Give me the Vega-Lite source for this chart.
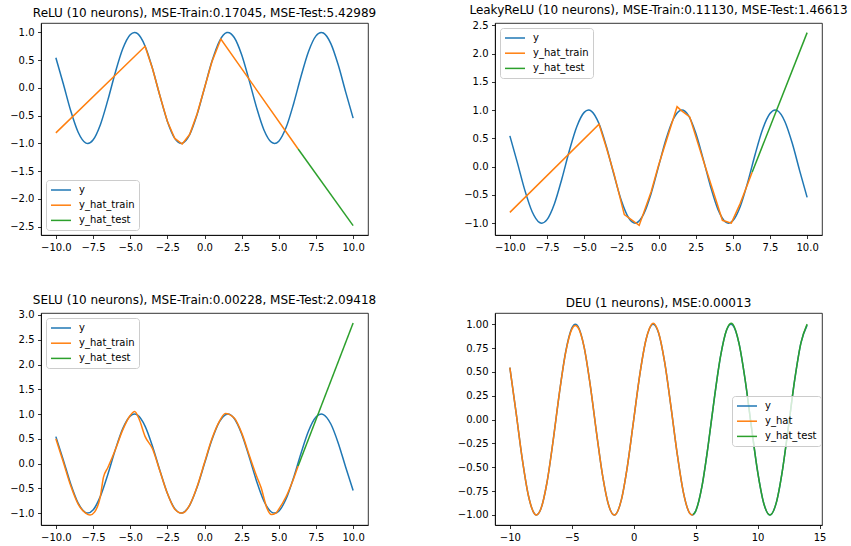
{
  "$schema": "https://vega.github.io/schema/vega-lite/v6.json",
  "autosize": {"type": "pad"},
  "padding": {"left": 9, "top": 3, "right": 0, "bottom": 0},
  "background": "white",
  "datasets": {
    "sine": [
      {"x": -10, "v": 0.544, "s": "y"}, {"x": -9.5, "v": 0.0752, "s": "y"}, {"x": -9, "v": -0.4121, "s": "y"},
      {"x": -8.5, "v": -0.7985, "s": "y"}, {"x": -8, "v": -0.9894, "s": "y"}, {"x": -7.854, "v": -1, "s": "y"},
      {"x": -7.5, "v": -0.938, "s": "y"}, {"x": -7, "v": -0.657, "s": "y"}, {"x": -6.5, "v": -0.2151, "s": "y"},
      {"x": -6, "v": 0.2794, "s": "y"}, {"x": -5.5, "v": 0.7055, "s": "y"}, {"x": -5, "v": 0.9589, "s": "y"},
      {"x": -4.712, "v": 1, "s": "y"}, {"x": -4.5, "v": 0.9775, "s": "y"}, {"x": -4, "v": 0.7568, "s": "y"},
      {"x": -3.5, "v": 0.3508, "s": "y"}, {"x": -3, "v": -0.1411, "s": "y"}, {"x": -2.5, "v": -0.5985, "s": "y"},
      {"x": -2, "v": -0.9093, "s": "y"}, {"x": -1.571, "v": -1, "s": "y"}, {"x": -1.5, "v": -0.9975, "s": "y"},
      {"x": -1, "v": -0.8415, "s": "y"}, {"x": -0.5, "v": -0.4794, "s": "y"}, {"x": 0, "v": 0, "s": "y"},
      {"x": 0.5, "v": 0.4794, "s": "y"}, {"x": 1, "v": 0.8415, "s": "y"}, {"x": 1.5, "v": 0.9975, "s": "y"},
      {"x": 1.571, "v": 1, "s": "y"}, {"x": 2, "v": 0.9093, "s": "y"}, {"x": 2.5, "v": 0.5985, "s": "y"},
      {"x": 3, "v": 0.1411, "s": "y"}, {"x": 3.5, "v": -0.3508, "s": "y"}, {"x": 4, "v": -0.7568, "s": "y"},
      {"x": 4.5, "v": -0.9775, "s": "y"}, {"x": 4.712, "v": -1, "s": "y"}, {"x": 5, "v": -0.9589, "s": "y"},
      {"x": 5.5, "v": -0.7055, "s": "y"}, {"x": 6, "v": -0.2794, "s": "y"}, {"x": 6.5, "v": 0.2151, "s": "y"},
      {"x": 7, "v": 0.657, "s": "y"}, {"x": 7.5, "v": 0.938, "s": "y"}, {"x": 7.854, "v": 1, "s": "y"},
      {"x": 8, "v": 0.9894, "s": "y"}, {"x": 8.5, "v": 0.7985, "s": "y"}, {"x": 9, "v": 0.4121, "s": "y"},
      {"x": 9.5, "v": -0.0752, "s": "y"}, {"x": 10, "v": -0.544, "s": "y"}, {"x": 10.5, "v": -0.8797, "s": "y"},
      {"x": 10.996, "v": -1, "s": "y"}, {"x": 11.5, "v": -0.8755, "s": "y"}, {"x": 12, "v": -0.5366, "s": "y"},
      {"x": 12.5, "v": -0.0663, "s": "y"}, {"x": 13, "v": 0.4202, "s": "y"}, {"x": 13.5, "v": 0.8038, "s": "y"},
      {"x": 14, "v": 0.9906, "s": "y"}
    ],
    "relu": [
      {"x": -10, "v": -0.81, "s": "y_hat_train"}, {"x": -4, "v": 0.75, "s": "y_hat_train"},
      {"x": -3.5, "v": 0.35, "s": "y_hat_train"}, {"x": -3, "v": -0.14, "s": "y_hat_train"},
      {"x": -2.5, "v": -0.6, "s": "y_hat_train"}, {"x": -2, "v": -0.91, "s": "y_hat_train"},
      {"x": -1.5, "v": -1.01, "s": "y_hat_train"}, {"x": -1, "v": -0.84, "s": "y_hat_train"},
      {"x": -0.5, "v": -0.47, "s": "y_hat_train"}, {"x": 0, "v": 0, "s": "y_hat_train"},
      {"x": 0.5, "v": 0.47, "s": "y_hat_train"}, {"x": 1.1, "v": 0.88, "s": "y_hat_train"},
      {"x": 6.3, "v": -1.1, "s": "y_hat_train"},
      {"x": 6.3, "v": -1.1, "s": "y_hat_test"}, {"x": 10, "v": -2.48, "s": "y_hat_test"}
    ],
    "leaky": [
      {"x": -10, "v": -0.81, "s": "y_hat_train"}, {"x": -4, "v": 0.75, "s": "y_hat_train"},
      {"x": -3.5, "v": 0.33, "s": "y_hat_train"}, {"x": -3, "v": -0.12, "s": "y_hat_train"},
      {"x": -2.3, "v": -0.85, "s": "y_hat_train"}, {"x": -1.3, "v": -1.04, "s": "y_hat_train"},
      {"x": -0.5, "v": -0.45, "s": "y_hat_train"}, {"x": 0, "v": 0.02, "s": "y_hat_train"},
      {"x": 1.25, "v": 1.06, "s": "y_hat_train"}, {"x": 1.5, "v": 1.0, "s": "y_hat_train"},
      {"x": 2.1, "v": 0.88, "s": "y_hat_train"}, {"x": 3, "v": 0.12, "s": "y_hat_train"},
      {"x": 4.3, "v": -0.95, "s": "y_hat_train"}, {"x": 4.9, "v": -1.0, "s": "y_hat_train"},
      {"x": 5.5, "v": -0.65, "s": "y_hat_train"}, {"x": 6.3, "v": -0.1, "s": "y_hat_train"},
      {"x": 6.3, "v": -0.1, "s": "y_hat_test"}, {"x": 10, "v": 2.37, "s": "y_hat_test"}
    ],
    "selu": [
      {"x": -10, "v": 0.5, "s": "y_hat_train"}, {"x": -9.5, "v": 0.03, "s": "y_hat_train"},
      {"x": -9, "v": -0.45, "s": "y_hat_train"}, {"x": -8.5, "v": -0.82, "s": "y_hat_train"},
      {"x": -8, "v": -1.0, "s": "y_hat_train"}, {"x": -7.7, "v": -1.04, "s": "y_hat_train"},
      {"x": -7.4, "v": -0.98, "s": "y_hat_train"}, {"x": -7, "v": -0.65, "s": "y_hat_train"},
      {"x": -6.8, "v": -0.28, "s": "y_hat_train"}, {"x": -6.5, "v": -0.08, "s": "y_hat_train"},
      {"x": -6, "v": 0.28, "s": "y_hat_train"}, {"x": -5.5, "v": 0.68, "s": "y_hat_train"},
      {"x": -5, "v": 0.97, "s": "y_hat_train"}, {"x": -4.7, "v": 1.05, "s": "y_hat_train"},
      {"x": -4.4, "v": 0.9, "s": "y_hat_train"}, {"x": -4, "v": 0.55, "s": "y_hat_train"},
      {"x": -3.5, "v": 0.3, "s": "y_hat_train"}, {"x": -3, "v": -0.15, "s": "y_hat_train"},
      {"x": -2.5, "v": -0.6, "s": "y_hat_train"}, {"x": -2, "v": -0.92, "s": "y_hat_train"},
      {"x": -1.5, "v": -1.0, "s": "y_hat_train"}, {"x": -1, "v": -0.84, "s": "y_hat_train"},
      {"x": -0.5, "v": -0.47, "s": "y_hat_train"}, {"x": 0, "v": 0.02, "s": "y_hat_train"},
      {"x": 0.5, "v": 0.5, "s": "y_hat_train"}, {"x": 1, "v": 0.85, "s": "y_hat_train"},
      {"x": 1.4, "v": 1.01, "s": "y_hat_train"}, {"x": 2, "v": 0.92, "s": "y_hat_train"},
      {"x": 2.5, "v": 0.62, "s": "y_hat_train"}, {"x": 3, "v": 0.18, "s": "y_hat_train"},
      {"x": 3.5, "v": -0.25, "s": "y_hat_train"}, {"x": 3.8, "v": -0.48, "s": "y_hat_train"},
      {"x": 4.2, "v": -0.9, "s": "y_hat_train"}, {"x": 4.5, "v": -1.03, "s": "y_hat_train"},
      {"x": 4.8, "v": -1.0, "s": "y_hat_train"}, {"x": 5, "v": -0.92, "s": "y_hat_train"},
      {"x": 5.5, "v": -0.66, "s": "y_hat_train"}, {"x": 6, "v": -0.3, "s": "y_hat_train"},
      {"x": 6.3, "v": -0.05, "s": "y_hat_train"},
      {"x": 6.3, "v": -0.05, "s": "y_hat_test"}, {"x": 10, "v": 2.84, "s": "y_hat_test"}
    ],
    "deu": [
      {"x": -10, "v": 0.544, "s": "y_hat"}, {"x": -9.5, "v": 0.0752, "s": "y_hat"}, {"x": -9, "v": -0.4121, "s": "y_hat"},
      {"x": -8.5, "v": -0.7985, "s": "y_hat"}, {"x": -8, "v": -0.9894, "s": "y_hat"}, {"x": -7.854, "v": -1, "s": "y_hat"},
      {"x": -7.5, "v": -0.938, "s": "y_hat"}, {"x": -7, "v": -0.657, "s": "y_hat"}, {"x": -6.5, "v": -0.2151, "s": "y_hat"},
      {"x": -6, "v": 0.2794, "s": "y_hat"}, {"x": -5.5, "v": 0.7, "s": "y_hat"}, {"x": -5, "v": 0.945, "s": "y_hat"},
      {"x": -4.712, "v": 0.985, "s": "y_hat"}, {"x": -4.5, "v": 0.965, "s": "y_hat"}, {"x": -4, "v": 0.7568, "s": "y_hat"},
      {"x": -3.5, "v": 0.3508, "s": "y_hat"}, {"x": -3, "v": -0.1411, "s": "y_hat"}, {"x": -2.5, "v": -0.5985, "s": "y_hat"},
      {"x": -2, "v": -0.9093, "s": "y_hat"}, {"x": -1.571, "v": -1, "s": "y_hat"}, {"x": -1.5, "v": -0.9975, "s": "y_hat"},
      {"x": -1, "v": -0.8415, "s": "y_hat"}, {"x": -0.5, "v": -0.4794, "s": "y_hat"}, {"x": 0, "v": 0, "s": "y_hat"},
      {"x": 0.5, "v": 0.4794, "s": "y_hat"}, {"x": 1, "v": 0.8415, "s": "y_hat"}, {"x": 1.5, "v": 1.005, "s": "y_hat"},
      {"x": 1.571, "v": 1.01, "s": "y_hat"}, {"x": 2, "v": 0.915, "s": "y_hat"}, {"x": 2.5, "v": 0.5985, "s": "y_hat"},
      {"x": 3, "v": 0.1411, "s": "y_hat"}, {"x": 3.5, "v": -0.3508, "s": "y_hat"}, {"x": 4, "v": -0.7568, "s": "y_hat"},
      {"x": 4.5, "v": -0.9775, "s": "y_hat"}, {"x": 4.712, "v": -1, "s": "y_hat"}, {"x": 4.8, "v": -0.996, "s": "y_hat"},
      {"x": 4.8, "v": -0.996, "s": "y_hat_test"}, {"x": 5, "v": -0.9589, "s": "y_hat_test"},
      {"x": 5.5, "v": -0.7055, "s": "y_hat_test"}, {"x": 6, "v": -0.2794, "s": "y_hat_test"}, {"x": 6.5, "v": 0.2151, "s": "y_hat_test"},
      {"x": 7, "v": 0.657, "s": "y_hat_test"}, {"x": 7.5, "v": 0.942, "s": "y_hat_test"}, {"x": 7.854, "v": 1.01, "s": "y_hat_test"},
      {"x": 8, "v": 0.998, "s": "y_hat_test"}, {"x": 8.5, "v": 0.7985, "s": "y_hat_test"}, {"x": 9, "v": 0.4121, "s": "y_hat_test"},
      {"x": 9.5, "v": -0.0752, "s": "y_hat_test"}, {"x": 10, "v": -0.544, "s": "y_hat_test"}, {"x": 10.5, "v": -0.8797, "s": "y_hat_test"},
      {"x": 10.996, "v": -1, "s": "y_hat_test"}, {"x": 11.5, "v": -0.8755, "s": "y_hat_test"}, {"x": 12, "v": -0.5366, "s": "y_hat_test"},
      {"x": 12.5, "v": -0.0663, "s": "y_hat_test"}, {"x": 13, "v": 0.4202, "s": "y_hat_test"}, {"x": 13.5, "v": 0.8038, "s": "y_hat_test"},
      {"x": 14, "v": 1.0, "s": "y_hat_test"}
    ]
  },
  "columns": 2,
  "spacing": {"row": 78, "column": 127},
  "bounds": "flush",
  "resolve": {"scale": {"color": "independent", "x": "independent", "y": "independent"}, "legend": {"color": "independent"}},
  "concat": [
    {
      "width": 327, "height": 212,
      "title": "ReLU (10 neurons), MSE-Train:0.17045, MSE-Test:5.42989",
      "layer": [
        {
          "data": {"name": "sine"},
          "transform": [{"filter": "datum.x <= 10.01"}],
          "mark": {"type": "line", "interpolate": "monotone", "strokeWidth": 1.5},
          "encoding": {
            "x": {"field": "x", "type": "quantitative", "scale": {"domain": [-11, 11], "nice": false, "zero": false},
                  "axis": {"title": null, "values": [-10, -7.5, -5, -2.5, 0, 2.5, 5, 7.5, 10], "format": ".1f", "tickCount": 30}},
            "y": {"field": "v", "type": "quantitative", "scale": {"domain": [-2.65, 1.17], "nice": false, "zero": false},
                  "axis": {"title": null, "values": [-2.5, -2, -1.5, -1, -0.5, 0, 0.5, 1], "format": ".1f", "tickCount": 30}},
            "color": {"field": "s", "type": "nominal",
                      "scale": {"domain": ["y", "y_hat_train", "y_hat_test"], "range": ["#1f77b4", "#ff7f0e", "#2ca02c"]},
                      "legend": {"title": null, "orient": "bottom-left", "offset": 5}}
          }
        },
        {
          "data": {"name": "relu"},
          "mark": {"type": "line", "strokeWidth": 1.5},
          "encoding": {
            "x": {"field": "x", "type": "quantitative"},
            "y": {"field": "v", "type": "quantitative"},
            "color": {"field": "s", "type": "nominal"}
          }
        }
      ]
    },
    {
      "width": 327, "height": 212,
      "title": "LeakyReLU (10 neurons), MSE-Train:0.11130, MSE-Test:1.46613",
      "layer": [
        {
          "data": {"name": "sine"},
          "transform": [{"filter": "datum.x <= 10.01"}],
          "mark": {"type": "line", "interpolate": "monotone", "strokeWidth": 1.5},
          "encoding": {
            "x": {"field": "x", "type": "quantitative", "scale": {"domain": [-11, 11], "nice": false, "zero": false},
                  "axis": {"title": null, "values": [-10, -7.5, -5, -2.5, 0, 2.5, 5, 7.5, 10], "format": ".1f", "tickCount": 30}},
            "y": {"field": "v", "type": "quantitative", "scale": {"domain": [-1.21, 2.54], "nice": false, "zero": false},
                  "axis": {"title": null, "values": [-1, -0.5, 0, 0.5, 1, 1.5, 2, 2.5], "format": ".1f", "tickCount": 30}},
            "color": {"field": "s", "type": "nominal",
                      "scale": {"domain": ["y", "y_hat_train", "y_hat_test"], "range": ["#1f77b4", "#ff7f0e", "#2ca02c"]},
                      "legend": {"title": null, "orient": "top-left", "offset": 5}}
          }
        },
        {
          "data": {"name": "leaky"},
          "mark": {"type": "line", "strokeWidth": 1.5},
          "encoding": {
            "x": {"field": "x", "type": "quantitative"},
            "y": {"field": "v", "type": "quantitative"},
            "color": {"field": "s", "type": "nominal"}
          }
        }
      ]
    },
    {
      "width": 327, "height": 212,
      "title": "SELU (10 neurons), MSE-Train:0.00228, MSE-Test:2.09418",
      "layer": [
        {
          "data": {"name": "sine"},
          "transform": [{"filter": "datum.x <= 10.01"}],
          "mark": {"type": "line", "interpolate": "monotone", "strokeWidth": 1.5},
          "encoding": {
            "x": {"field": "x", "type": "quantitative", "scale": {"domain": [-11, 11], "nice": false, "zero": false},
                  "axis": {"title": null, "values": [-10, -7.5, -5, -2.5, 0, 2.5, 5, 7.5, 10], "format": ".1f", "tickCount": 30}},
            "y": {"field": "v", "type": "quantitative", "scale": {"domain": [-1.24, 3.04], "nice": false, "zero": false},
                  "axis": {"title": null, "values": [-1, -0.5, 0, 0.5, 1, 1.5, 2, 2.5, 3], "format": ".1f", "tickCount": 30}},
            "color": {"field": "s", "type": "nominal",
                      "scale": {"domain": ["y", "y_hat_train", "y_hat_test"], "range": ["#1f77b4", "#ff7f0e", "#2ca02c"]},
                      "legend": {"title": null, "orient": "top-left", "offset": 5}}
          }
        },
        {
          "data": {"name": "selu"},
          "mark": {"type": "line", "interpolate": "monotone", "strokeWidth": 1.5},
          "encoding": {
            "x": {"field": "x", "type": "quantitative"},
            "y": {"field": "v", "type": "quantitative"},
            "color": {"field": "s", "type": "nominal"}
          }
        }
      ]
    },
    {
      "width": 327, "height": 212,
      "title": "DEU (1 neurons), MSE:0.00013",
      "layer": [
        {
          "data": {"name": "sine"},
          "mark": {"type": "line", "interpolate": "monotone", "strokeWidth": 1.5},
          "encoding": {
            "x": {"field": "x", "type": "quantitative", "scale": {"domain": [-11.2, 15.2], "nice": false, "zero": false},
                  "axis": {"title": null, "values": [-10, -5, 0, 5, 10, 15], "format": "d", "tickCount": 30}},
            "y": {"field": "v", "type": "quantitative", "scale": {"domain": [-1.105, 1.117], "nice": false, "zero": false},
                  "axis": {"title": null, "values": [-1, -0.75, -0.5, -0.25, 0, 0.25, 0.5, 0.75, 1], "format": ".2f", "tickCount": 30}},
            "color": {"field": "s", "type": "nominal",
                      "scale": {"domain": ["y", "y_hat", "y_hat_test"], "range": ["#1f77b4", "#ff7f0e", "#2ca02c"]},
                      "legend": {"title": null, "orient": "none", "legendX": 237, "legendY": 83}}
          }
        },
        {
          "data": {"name": "deu"},
          "mark": {"type": "line", "interpolate": "monotone", "strokeWidth": 1.5},
          "encoding": {
            "x": {"field": "x", "type": "quantitative"},
            "y": {"field": "v", "type": "quantitative"},
            "color": {"field": "s", "type": "nominal"}
          }
        }
      ]
    }
  ],
  "config": {
    "font": "DejaVu Sans",
    "view": {"stroke": "black", "strokeWidth": 0.8},
    "axis": {
      "grid": false, "domainColor": "black", "domainWidth": 0.8, "tickColor": "black", "tickWidth": 0.8,
      "tickSize": 3.5, "labelPadding": 3.5, "labelFont": "DejaVu Sans", "labelFontSize": 10, "labelColor": "black",
      "labelFlush": false, "labelOverlap": false, "labelBound": false
    },
    "title": {"font": "DejaVu Sans", "fontSize": 12, "fontWeight": "normal", "color": "black", "offset": 3, "anchor": "middle", "baseline": "alphabetic"},
    "legend": {
      "symbolType": "M-1,0H3", "symbolStrokeWidth": 1.5, "symbolSize": 100, "labelFont": "DejaVu Sans", "labelFontSize": 10,
      "labelColor": "black", "padding": 4, "rowPadding": 4.2, "labelOffset": 17, "strokeColor": "#cccccc",
      "fillColor": "rgba(255,255,255,0.8)", "cornerRadius": 3, "symbolOpacity": 1
    }
  }
}
